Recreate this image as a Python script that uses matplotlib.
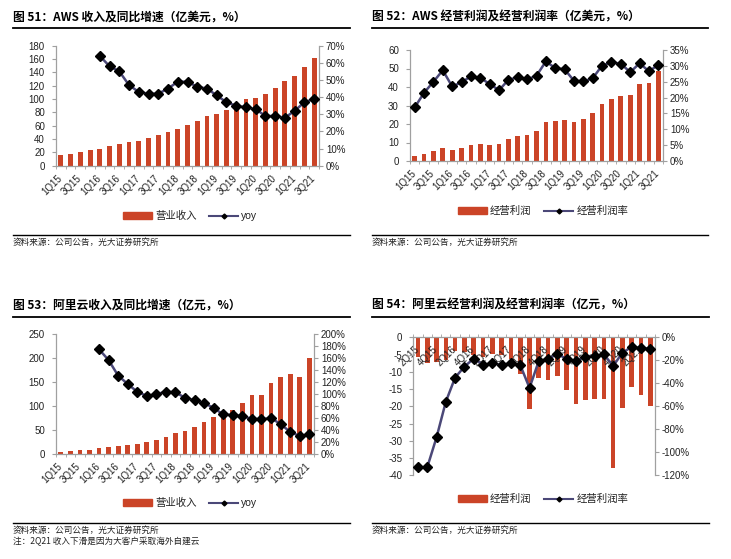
import numpy as np
import matplotlib
matplotlib.use('Agg')
import matplotlib.pyplot as plt
from matplotlib.lines import Line2D
from matplotlib.patches import Patch
from matplotlib.transforms import ScaledTranslation

plt.rcParams['font.family'] = ['Liberation Sans', 'Noto Sans CJK SC']
plt.rcParams['axes.unicode_minus'] = False

#figure size in px
W = 731
H = 559

RED = '#CB4427'
NAVY = '#4B4878'
GRAY = '#A0A0A0'
TXT = '#222222'

#quarters
quarters = ['1Q15', '2Q15', '3Q15', '4Q15', '1Q16', '2Q16', '3Q16', '4Q16',
            '1Q17', '2Q17', '3Q17', '4Q17', '1Q18', '2Q18', '3Q18', '4Q18',
            '1Q19', '2Q19', '3Q19', '4Q19', '1Q20', '2Q20', '3Q20', '4Q20',
            '1Q21', '2Q21', '3Q21']
quarters_ali_op = quarters[1:]

#fig 51: AWS revenue (100m USD) and yoy (%)
aws_rev = [15.7, 18.2, 20.9, 24.1, 25.7, 28.9, 32.3, 35.4, 36.6, 41.0, 45.8, 51.1,
           54.4, 61.1, 66.8, 74.3, 77.0, 83.8, 90.0, 99.5, 102.2, 108.1, 116.0,
           127.4, 135.0, 148.1, 161.1]
aws_yoy = [np.nan, np.nan, np.nan, np.nan, 64, 58, 55, 47, 43, 42, 42, 45, 49, 49,
           46, 45, 41, 37, 35, 34, 33, 29, 29, 28, 32, 37, 39]

#fig 52: AWS operating income and margin
aws_op = [2.65, 3.91, 5.21, 6.87, 6.04, 7.18, 8.61, 9.26, 8.90, 9.16, 11.71, 13.5,
          14.0, 16.4, 21.0, 21.8, 22.2, 21.2, 22.6, 26.0, 30.8, 33.6, 35.4, 35.6,
          41.6, 41.9, 48.8]
aws_margin = [16.9, 21.5, 25.0, 28.6, 23.5, 24.8, 26.7, 26.2, 24.3, 22.3, 25.6,
              26.4, 25.7, 26.9, 31.4, 29.3, 28.9, 25.3, 25.1, 26.1, 30.1, 31.1,
              30.7, 28.0, 30.8, 28.3, 30.3]

#fig 53: Alibaba cloud revenue (100m RMB) and yoy
ali_rev = [4.9, 6.2, 7.4, 8.9, 11.6, 14.3, 15.8, 18.6, 21.6, 24.3, 29.8, 35.6,
           43.4, 47.0, 56.7, 66.3, 77.3, 77.9, 92.9, 107.2, 122.2, 123.5, 149.0,
           161.2, 167.7, 160.5, 200.1]
ali_yoy = [np.nan, np.nan, np.nan, np.nan, 175, 157, 131, 117, 104, 97, 100, 104,
           103, 94, 90, 85, 77, 66, 65, 63, 59, 58, 60, 50, 37, 30, 33]

#fig 54: Alibaba cloud operating income and margin (from 2Q15)
ali_op = [-5.6, -7.5, -7.2, -6.5, -4.1, -4.2, -5.0, -5.6, -4.8, -5.2, -6.3, -10.7,
          -20.8, -11.8, -12.5, -11.3, -15.3, -19.2, -18.3, -17.9, -17.9, -37.8,
          -20.5, -14.5, -16.6, -19.8]
ali_margin = [-113, -113, -87, -56, -35, -25.5, -18.5, -24, -22.5, -24, -22.5, -24,
              -44, -20.6, -18.8, -14.5, -18.8, -20.6, -16.8, -16.2, -14.7, -25,
              -13.3, -8.4, -9.6, -10]

fig = plt.figure(figsize=(W/100, H/100), dpi=100)


def rect(x0, y0, x1, y1):
    #pixel box -> figure fraction
    return [x0/W, 1-y1/H, (x1-x0)/W, (y1-y0)/H]


def hline(x0, x1, y, lw=1.0):
    fig.add_artist(Line2D([x0/W, x1/W], [1-y/H, 1-y/H], transform=fig.transFigure,
                          color='black', lw=lw))


def panel(box, cats, bars, line, lylim, lyticks, rylim, ryticks, neg=False):
    ax = fig.add_axes(rect(*box))
    for s in ['top', 'right']:
        ax.spines[s].set_visible(False)
    for s in ['left', 'bottom']:
        ax.spines[s].set_color(GRAY)
        ax.spines[s].set_linewidth(0.9)
    if neg:
        #category axis sits at zero, i.e. on top
        ax.spines['bottom'].set_position(('data', 0))

    x = np.arange(len(cats))
    ax.bar(x, bars, width=0.5, color=RED, zorder=1)
    ax.set_xlim(-0.5, len(cats)-0.5)
    ax.set_ylim(*lylim)
    ax.set_yticks(lyticks)
    ax.set_xticks(x[::2])
    ax.set_xticklabels(cats[::2], rotation=45, ha='right')
    ax.set_xticks(np.arange(-0.5, len(cats), 1), minor=True)
    ax.tick_params(axis='x', which='major', length=0, pad=5, labelsize=7, colors=TXT)
    ax.tick_params(axis='x', which='minor', length=2.5, color=GRAY,
                   direction='in' if neg else 'out')
    ax.tick_params(axis='y', length=3, color=GRAY, pad=5, labelsize=7, labelcolor=TXT)
    shift = ScaledTranslation(0.03, 0, fig.dpi_scale_trans)
    for lab in ax.get_xticklabels():
        lab.set_transform(lab.get_transform() + shift)

    ax2 = ax.twinx()
    ax2.plot(x, line, color=NAVY, lw=1.8, marker='D', ms=5.5, mfc='black',
             mec='black', zorder=3)
    ax2.set_ylim(*rylim)
    ax2.set_yticks(ryticks)
    ax2.set_yticklabels(['%d%%' % v for v in ryticks])
    ax2.tick_params(axis='y', length=3, color=GRAY, pad=2, labelsize=7, labelcolor=TXT)
    for s in ['top', 'left', 'bottom']:
        ax2.spines[s].set_visible(False)
    ax2.spines['right'].set_color(GRAY)
    ax2.spines['right'].set_linewidth(0.9)
    return ax, ax2


def legend(cx, cy, lab1, lab2):
    h1 = Patch(color=RED)
    h2 = Line2D([], [], color=NAVY, lw=1.5, marker='D', ms=2.5, mfc='black', mec='black')
    fig.legend([h1, h2], [lab1, lab2], loc='center', bbox_to_anchor=(cx/W, 1-cy/H),
               ncol=2, frameon=False, fontsize=7.5, handlelength=2.8, handleheight=0.6,
               handletextpad=0.3, columnspacing=1.2, labelcolor=TXT)


def title(x, y, s):
    fig.text(x/W, 1-y/H, s, fontsize=8.5, fontweight='bold', ha='left', va='center',
             family=['Noto Sans CJK SC'])


def note(x, y, s):
    fig.text(x/W, 1-y/H, s, fontsize=6.2, ha='left', va='center', color=TXT,
             family=['Noto Sans CJK SC'])


SRC = '资料来源：公司公告，光大证券研究所'

#fig 51
title(13, 17, '图 51：AWS 收入及同比增速（亿美元，%）')
hline(13, 350, 28.3, 1.3)
panel((56, 45.7, 319, 165.7), quarters, aws_rev, aws_yoy,
      (0, 180), range(0, 181, 20), (0, 70), range(0, 71, 10))
legend(190, 216, '营业收入', 'yoy')
hline(13, 350, 235, 1.0)
note(13, 242, SRC)

#fig 52
title(372, 17, '图 52：AWS 经营利润及经营利润率（亿美元，%）')
hline(372, 708, 28.3, 1.3)
panel((410, 50, 663, 161), quarters, aws_op, aws_margin,
      (0, 60), range(0, 61, 10), (0, 35), range(0, 36, 5))
legend(543, 211, '经营利润', '经营利润率')
hline(372, 708, 235, 1.0)
note(372, 242, SRC)

#fig 53
title(13, 305, '图 53：阿里云收入及同比增速（亿元，%）')
hline(13, 350, 316.7, 1.3)
panel((56, 334.3, 314, 454), quarters, ali_rev, ali_yoy,
      (0, 250), range(0, 251, 50), (0, 200), range(0, 201, 20))
legend(190, 503.3, '营业收入', 'yoy')
hline(13, 350, 523.3, 1.0)
note(13, 530, SRC)
note(13, 541.7, '注：2Q21 收入下滑是因为大客户采取海外自建云')

#fig 54
title(372, 305, '图 54：阿里云经营利润及经营利润率（亿元，%）')
hline(372, 709, 316.7, 1.3)
panel((413.3, 337.3, 655, 475.3), quarters_ali_op, ali_op, ali_margin,
      (-40, 0), range(-40, 1, 5), (-120, 0), range(-120, 1, 20), neg=True)
legend(543, 499.3, '经营利润', '经营利润率')
hline(372, 709, 523.3, 1.0)
note(372, 530, SRC)

fig.savefig('out.png', dpi=100, facecolor='white')
